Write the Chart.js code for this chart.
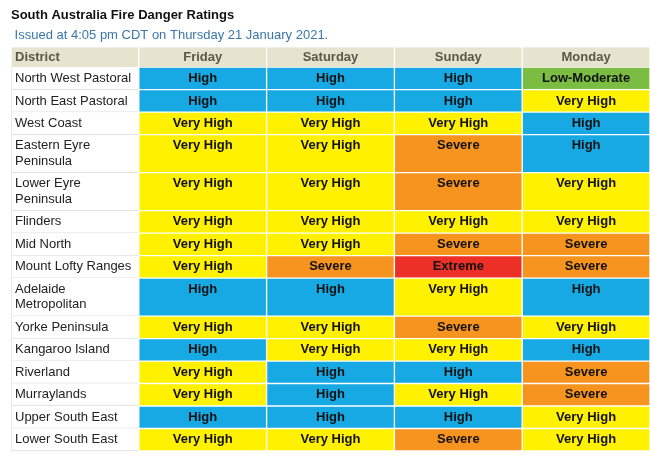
<!DOCTYPE html>
<html>
<head>
<meta charset="utf-8">
<script src="https://cdn.jsdelivr.net/npm/chart.js@4/dist/chart.umd.min.js"></script>
<style>
  html, body { margin: 0; padding: 0; background: #fff; }
  #wrap { width: 650px; height: 459px; }
</style>
</head>
<body>
<div id="wrap"><canvas id="ratings"></canvas></div>
<script>
// table content
const headers = ["District", "Friday", "Saturday", "Sunday", "Monday"];
const districts = [
  ["North West Pastoral"],
  ["North East Pastoral"],
  ["West Coast"],
  ["Eastern Eyre", "Peninsula"],
  ["Lower Eyre", "Peninsula"],
  ["Flinders"],
  ["Mid North"],
  ["Mount Lofty Ranges"],
  ["Adelaide", "Metropolitan"],
  ["Yorke Peninsula"],
  ["Kangaroo Island"],
  ["Riverland"],
  ["Murraylands"],
  ["Upper South East"],
  ["Lower South East"],
];
const friday = ["High", "High", "Very High", "Very High", "Very High", "Very High", "Very High", "Very High", "High", "Very High", "High", "Very High", "Very High", "High", "Very High"];
const saturday = ["High", "High", "Very High", "Very High", "Very High", "Very High", "Very High", "Severe", "High", "Very High", "Very High", "High", "High", "High", "Very High"];
const sunday = ["High", "High", "Very High", "Severe", "Severe", "Very High", "Severe", "Extreme", "Very High", "Severe", "Very High", "High", "Very High", "High", "Severe"];
const monday = ["Low-Moderate", "Very High", "High", "High", "Very High", "Very High", "Severe", "Severe", "High", "Very High", "High", "Severe", "Severe", "Very High", "Very High"];

const ratingColors = {
  "Low-Moderate": "#7bbd42",
  "High": "#17a9e4",
  "Very High": "#fff100",
  "Severe": "#f7941f",
  "Extreme": "#ec3027",
};

// row extents in "line" units (each row = its text lines plus some padding)
const rowPad = 0.45;
const headPad = 0.29;
const headH = 1 + headPad;
const rowTop = [];
let acc = headH;
districts.forEach(d => {
  rowTop.push(acc);
  acc += d.length + rowPad;
});
const totalH = acc;

const rowBox = i => [rowTop[i], rowTop[i] + districts[i].length + rowPad];

const dayCols = [friday, saturday, sunday, monday];

const barCommon = {
  grouped: false,
  categoryPercentage: 1,
  barPercentage: 1,
  borderSkipped: false,
};

const datasets = [];
datasets.push({
  ...barCommon,
  label: "header",
  data: headers.map((h, c) => ({ x: c + 0.5, y: [0, headH], txt: [h] })),
  backgroundColor: "#e6e3cf",
  borderColor: "#ffffff",
  borderWidth: { left: 1, right: 1, top: 0, bottom: 0 },
  bold: true,
  color: "#5a5848",
});
datasets.push({
  ...barCommon,
  label: "District",
  data: districts.map((d, i) => ({ x: 0.5, y: rowBox(i), txt: d })),
  backgroundColor: "#ffffff",
  borderColor: "#dedede",
  borderWidth: { left: 1, right: 0, top: 0, bottom: 1 },
  bold: false,
  color: "#222222",
});
dayCols.forEach((col, c) => {
  datasets.push({
    ...barCommon,
    label: headers[c + 1],
    data: col.map((r, i) => ({ x: c + 1.5, y: rowBox(i), txt: [r] })),
    backgroundColor: ctx => ratingColors[col[ctx.dataIndex]] || "#fff",
    borderColor: "#ffffff",
    borderWidth: 1,
    bold: true,
    color: "#111111",
  });
});

const cellText = {
  id: "cellText",
  afterDatasetsDraw(chart) {
    const g = chart.ctx;
    const ys = chart.scales.y;
    g.save();
    g.textBaseline = "middle";
    chart.data.datasets.forEach((ds, di) => {
      const meta = chart.getDatasetMeta(di);
      g.font = (ds.bold ? "bold " : "") + "13px 'Liberation Sans', Arial, sans-serif";
      g.fillStyle = ds.color;
      meta.data.forEach((bar, j) => {
        const pt = ds.data[j];
        const leftAlign = pt.x < 1;
        const top = pt.y[0];
        const pad = di === 0 ? headPad : rowPad;
        pt.txt.forEach((line, k) => {
          const y = ys.getPixelForValue(top + pad / 2 + 0.5 + k);
          if (leftAlign) {
            g.textAlign = "left";
            g.fillText(line, bar.x - bar.width / 2 + 4, y);
          } else {
            g.textAlign = "center";
            g.fillText(line, bar.x, y);
          }
        });
      });
    });
    g.restore();
  },
};

new Chart(document.getElementById("ratings"), {
  type: "bar",
  data: { datasets },
  plugins: [cellText],
  options: {
    responsive: true,
    maintainAspectRatio: false,
    animation: false,
    layout: { padding: { left: 11, right: 0, top: 0, bottom: 8 } },
    scales: {
      x: { type: "linear", min: 0, max: 5, offset: false, display: false, ticks: { stepSize: 1 } },
      y: { type: "linear", min: 0, max: totalH, reverse: true, display: false },
    },
    plugins: {
      legend: { display: false },
      tooltip: { enabled: false },
      title: {
        display: true,
        text: "South Australia Fire Danger Ratings",
        align: "start",
        color: "#111111",
        font: { family: "'Liberation Sans', Arial, sans-serif", size: 13, weight: "bold" },
        padding: { top: 8, bottom: 4 },
      },
      subtitle: {
        display: true,
        text: " Issued at 4:05 pm CDT on Thursday 21 January 2021.",
        align: "start",
        color: "#3a76ab",
        font: { family: "'Liberation Sans', Arial, sans-serif", size: 13 },
        padding: { top: 0, bottom: 4 },
      },
    },
  },
});
</script>
</body>
</html>
